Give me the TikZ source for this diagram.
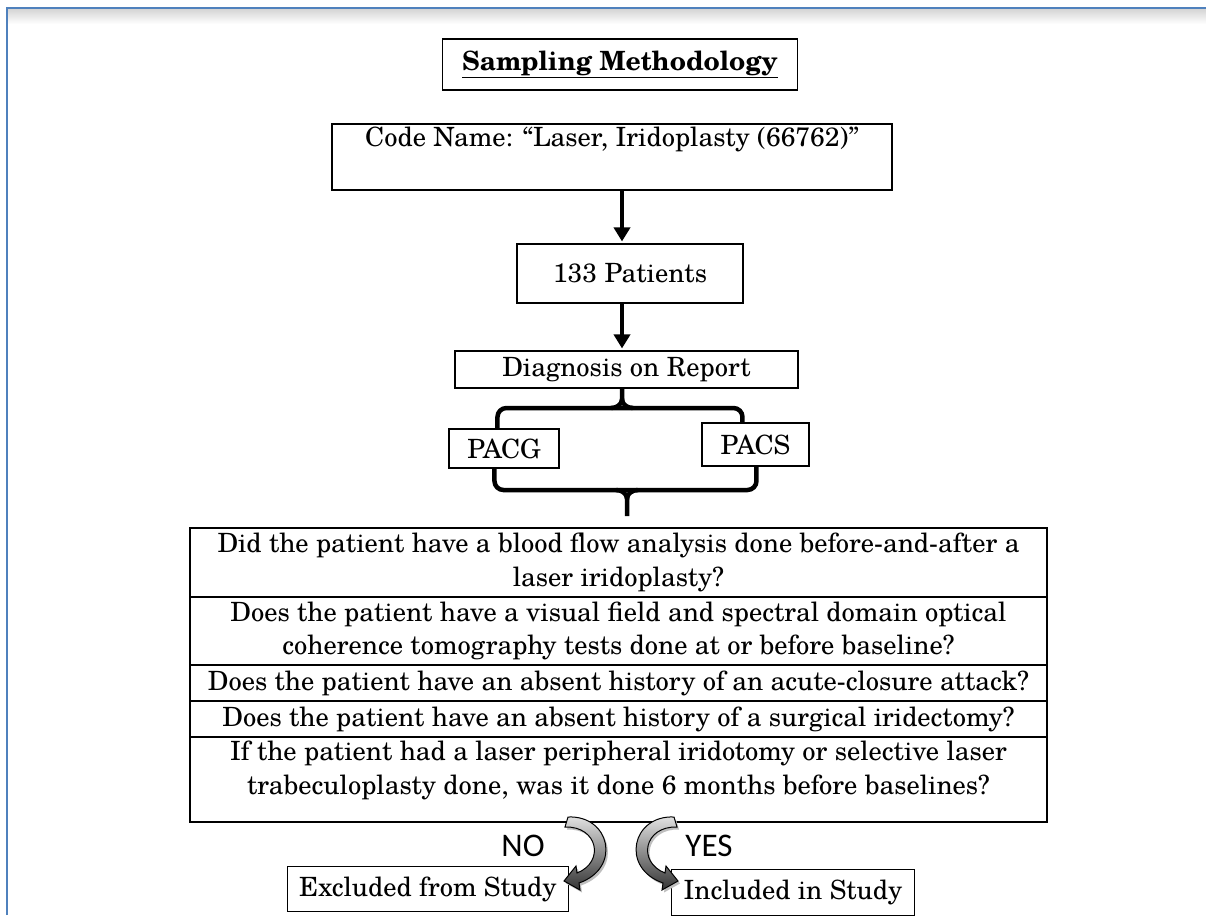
\documentclass[tikz,border=0pt]{standalone}
\usepackage{fontspec}
\setmainfont{TeX Gyre Schola}
\newfontfamily\labfont{Carlito}
\usetikzlibrary{arrows.meta,calc}
\definecolor{frameblue}{RGB}{79,129,189}
\newcommand\mainsz{\fontsize{26.5}{33.5}\selectfont}
\begin{document}
\begin{tikzpicture}[x=1pt,y=-1pt,
  box/.style={draw=black,line width=1.1pt,inner sep=0pt,font=\mainsz,align=center},
  rowbox/.style={draw=black,line width=1.7pt,inner sep=0pt,font=\mainsz,align=center,minimum width=857pt},
  flowarrow/.style={line width=4.5pt,-{Triangle[width=16pt,length=14pt]},shorten >=2pt},
  bracket/.style={line width=4.5pt,rounded corners=9pt},
  cusp/.style={line width=4.5pt},
  curvarrow/.style={draw=black,line width=1pt,top color=black!10,bottom color=black!80},
  arrshadow/.style={fill=black!25},
  lab/.style={font=\labfont\fontsize{33}{33}\selectfont,inner sep=0pt}]
\useasboundingbox (0,0) rectangle (1206,915);
\fill[white] (0,0) rectangle (1206,915);
% frame
\shade[top color=black!16,bottom color=white] (8,9.5) rectangle (1206,24);
\draw[line width=2.5pt,frameblue] (7,915) -- (7,8) -- (1206,8);

% boxes
\node[box,minimum width=355pt,minimum height=51pt] (title) at (620,64.5) {\textbf{\underline{Sampling Methodology}}};
\node[box,minimum width=560pt,minimum height=66pt] (code) at (612,157) {};
\node[anchor=base,font=\mainsz,inner sep=0pt] (codetxt) at ($(code.north)+(0,23)$) {Code Name: ``Laser, Iridoplasty (66762)''};
\node[box,minimum width=226pt,minimum height=59pt] (n133) at (630,273.5) {133 Patients};
\node[box,minimum width=343pt,minimum height=37pt] (diag) at (626.5,369.5) {Diagnosis on Report};
\node[box,minimum width=110pt,minimum height=39pt] (pacg) at (504,448.5) {PACG};
\node[box,minimum width=107pt,minimum height=43pt] (pacs) at (755.5,444.5) {PACS};

% table rows
\node[rowbox,minimum height=69pt] (r1) at (618.5,562.5) {Did the patient have a blood flow analysis done before-and-after a\\laser iridoplasty?};
\node[rowbox,minimum height=68pt] (r2) at (618.5,631) {Does the patient have a visual field and spectral domain optical\\coherence tomography tests done at or before baseline?};
\node[rowbox,minimum height=36pt] (r3) at (618.5,683) {Does the patient have an absent history of an acute-closure attack?};
\node[rowbox,minimum height=36pt] (r4) at (618.5,719) {Does the patient have an absent history of a surgical iridectomy?};
\node[rowbox,minimum height=85pt] (r5) at (618.5,779.5) {};
\node[anchor=north,font=\mainsz,align=center,inner sep=0pt] (r5txt) at ($(r5.north)+(0,5)$) {If the patient had a laser peripheral iridotomy or selective laser\\trabeculoplasty done, was it done 6 months before baselines?};

% outcome boxes
\node[box,anchor=north east,minimum height=45pt,inner xsep=12pt] (excl) at (569,866) {Excluded from Study};
\node[box,anchor=north west,minimum height=46pt,inner xsep=12pt] (incl) at (671,869) {Included in Study};
\node[lab] (no) at (523,846) {NO};
\node[lab] (yes) at (709,846) {YES};

% connectors
\coordinate (ax) at (622,0);
\draw[flowarrow] (code.south -| ax) -- (n133.north -| ax);
\draw[flowarrow] (n133.south -| ax) -- (diag.north -| ax);
\coordinate (tb) at (622,408);
\coordinate (bb) at (627,490);
\draw[bracket] ([xshift=49pt]pacg.north west) |- (tb) -| ([xshift=41pt]pacs.north west);
\draw[cusp] ($(tb)+(-11,0)$) to[out=0,in=-90] ($(tb)+(0,-9)$) -- (diag.south -| tb);
\draw[cusp] ($(tb)+(11,0)$) to[out=180,in=-90] ($(tb)+(0,-9)$);
\draw[bracket] ([xshift=46pt]pacg.south west) |- (bb) -| ([xshift=55pt]pacs.south west);
\draw[cusp,shorten >=11pt] ($(bb)+(-11,0)$) to[out=0,in=90] ($(bb)+(0,9)$) -- (r1.north -| bb);
\draw[cusp] ($(bb)+(11,0)$) to[out=180,in=90] ($(bb)+(0,9)$);

% curved arrows (with soft shadow)
\begin{scope}[shift={(2,2.5)}]
\path[arrshadow] (568,817) .. controls (610,815) and (622,868) .. (579,883)
  -- (580,890) -- (564,881) -- (576,866) -- (577,873)
  .. controls (605,862) and (598,826) .. (565,827) -- cycle;
\path[arrshadow] (674,817) .. controls (632,815) and (620,868) .. (663,883)
  -- (662,890) -- (678,881) -- (666,866) -- (665,873)
  .. controls (637,862) and (644,826) .. (677,827) -- cycle;
\end{scope}
\path[curvarrow] (568,817) .. controls (610,815) and (622,868) .. (579,883)
  -- (580,890) -- (564,881) -- (576,866) -- (577,873)
  .. controls (605,862) and (598,826) .. (565,827) -- cycle;
\path[curvarrow] (674,817) .. controls (632,815) and (620,868) .. (663,883)
  -- (662,890) -- (678,881) -- (666,866) -- (665,873)
  .. controls (637,862) and (644,826) .. (677,827) -- cycle;
\end{tikzpicture}
\end{document}
